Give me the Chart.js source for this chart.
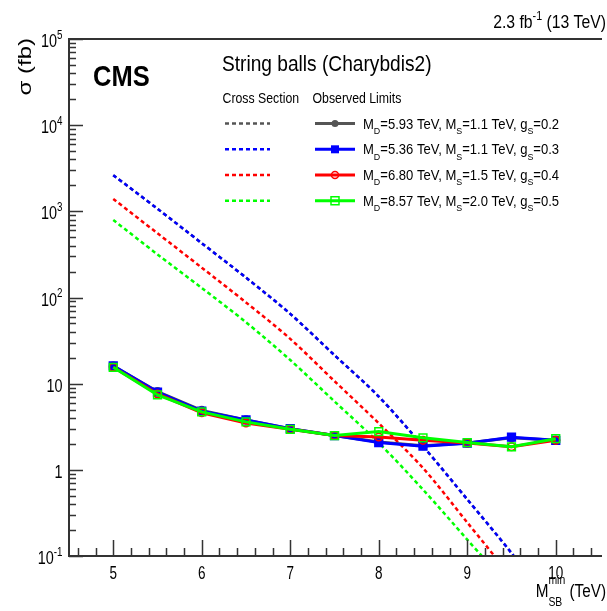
<!DOCTYPE html>
<html>
<head>
<meta charset="utf-8">
<script src="https://cdn.jsdelivr.net/npm/chart.js@4.4.1/dist/chart.umd.min.js"></script>
<style>
  html, body { margin: 0; padding: 0; background: #fff; }
  #wrap { width: 607px; height: 611px; }
</style>
</head>
<body>
<div id="wrap"><canvas id="xsec" width="607" height="611"></canvas></div>
<script>
// minimum string-ball mass points (TeV)
const massPoints = [5, 5.5, 6, 6.5, 7, 7.5, 8, 8.5, 9, 9.5, 10];

// theory cross sections (fb)
const xsecGray  = [2630, 1070, 427, 170, 64.6, 21.4, 7.08, 1.88, 0.454, 0.108, 0.022];
const xsecBlue  = [2630, 1070, 427, 170, 64.6, 21.4, 7.08, 1.88, 0.454, 0.108, 0.022];
const xsecRed   = [1393, 556, 222, 87.7, 33.1, 10.7, 3.47, 1.05, 0.245, 0.056, 0.011];
const xsecGreen = [794, 316, 129, 51.6, 18.8, 6.22, 2.06, 0.59, 0.155, 0.040, 0.008];

// observed 95% CL limits (fb)
const limGray  = [16.0, 8.1, 4.9, 3.8, 3.0, 2.5, 2.1, 1.9, 2.05, 2.35, 2.2];
const limBlue  = [16.1, 8.0, 4.8, 3.8, 3.0, 2.5, 2.07, 1.88, 2.04, 2.39, 2.2];
const limRed   = [15.5, 7.6, 4.6, 3.5, 2.95, 2.5, 2.4, 2.2, 2.05, 1.85, 2.2];
const limGreen = [15.5, 7.4, 4.7, 3.6, 2.95, 2.5, 2.78, 2.35, 2.07, 1.85, 2.3];

const modelLabels = [
  'M_{D}=5.93 TeV, M_{S}=1.1 TeV, g_{S}=0.2',
  'M_{D}=5.36 TeV, M_{S}=1.1 TeV, g_{S}=0.3',
  'M_{D}=6.80 TeV, M_{S}=1.5 TeV, g_{S}=0.4',
  'M_{D}=8.57 TeV, M_{S}=2.0 TeV, g_{S}=0.5'
];
const modelColors = ['#555555', '#0000ff', '#ff0000', '#00ff00'];
const modelMarkers = [
  { style: 'circle', fill: true },
  { style: 'rect', fill: true },
  { style: 'circle', fill: false },
  { style: 'rect', fill: false }
];

const xTickValues = [5, 6, 7, 8, 9, 10];
const yTickValues = [0.1, 1, 10, 100, 1000, 10000, 100000];
const yTickLabels = ['10^{-1}', '1', '10', '10^{2}', '10^{3}', '10^{4}', '10^{5}'];

const FONT = '"Liberation Sans", Arial, Helvetica, sans-serif';

// tiny ROOT-latex style parser: plain, _{sub}, ^{sup}
function parseLatex(str) {
  const runs = [];
  let i = 0, buf = '';
  while (i < str.length) {
    const c = str[i];
    if ((c === '_' || c === '^') && str[i + 1] === '{') {
      if (buf) { runs.push({ text: buf, mode: 'n' }); buf = ''; }
      const end = str.indexOf('}', i);
      runs.push({ text: str.slice(i + 2, end), mode: c === '_' ? 'sub' : 'sup' });
      i = end + 1;
    } else {
      buf += c;
      i++;
    }
  }
  if (buf) runs.push({ text: buf, mode: 'n' });
  return runs;
}

function drawRich(ctx, str, x, y, o) {
  const size = o.size;
  const weight = o.bold ? 'bold ' : '';
  const subDy = (o.subDy ?? 0.33) * size;
  const supDy = (o.supDy ?? -0.45) * size;
  const runs = parseLatex(str);
  ctx.save();
  ctx.translate(x, y);
  ctx.scale(o.sx ?? 1, 1);
  if (o.rotate) ctx.rotate(o.rotate);
  // lay out runs, stacking a sub directly followed by a sup
  let cx = 0, prev = null;
  const placed = [];
  for (const r of runs) {
    const small = r.mode !== 'n';
    const fs = small ? size * 0.68 : size;
    ctx.font = `${weight}${fs}px ${FONT}`;
    const w = ctx.measureText(r.text).width;
    let x0 = cx;
    if (prev && small && prev.mode !== 'n' && prev.mode !== r.mode) {
      x0 = prev.x;
      cx = Math.max(prev.x + prev.w, x0 + w);
    } else {
      cx += w;
    }
    const dy = r.mode === 'sub' ? subDy : r.mode === 'sup' ? supDy : 0;
    const p = { text: r.text, fs, x: x0, w, dy, mode: r.mode };
    placed.push(p);
    prev = p;
  }
  let off = 0;
  if (o.align === 'right') off = -cx;
  else if (o.align === 'center') off = -cx / 2;
  ctx.fillStyle = o.color || '#000';
  ctx.textAlign = 'left';
  ctx.textBaseline = 'alphabetic';
  for (const p of placed) {
    ctx.font = `${weight}${p.fs}px ${FONT}`;
    ctx.fillText(p.text, off + p.x, p.dy);
  }
  ctx.restore();
}

function drawMarker(ctx, x, y, m, color) {
  ctx.save();
  ctx.strokeStyle = color;
  ctx.fillStyle = color;
  ctx.lineWidth = 1.5;
  ctx.beginPath();
  if (m.style === 'circle') ctx.arc(x, y, 3.5, 0, Math.PI * 2);
  else ctx.rect(x - 4, y - 4, 8, 8);
  if (m.fill) ctx.fill(); else ctx.stroke();
  ctx.restore();
}

// frame, inward ticks, tick labels, titles and legend
const decorations = {
  id: 'decorations',
  afterDatasetsDraw(chart) {
    const ctx = chart.ctx;
    const { left, right, top, bottom } = chart.chartArea;
    const xs = chart.scales.x, ys = chart.scales.y;
    ctx.save();
    ctx.strokeStyle = '#333';
    ctx.lineWidth = 2;
    ctx.beginPath();
    ctx.moveTo(right + 2, top);
    ctx.lineTo(left, top);
    ctx.lineTo(left, bottom);
    ctx.lineTo(right + 2, bottom);
    ctx.stroke();

    ctx.lineWidth = 1.5;
    ctx.beginPath();
    for (let d = -1; d <= 5; d++) {
      for (let k = 1; k <= 9; k++) {
        const v = k * Math.pow(10, d);
        if (v < 0.1 || v > 100000) continue;
        const py = Math.round(ys.getPixelForValue(v)) + 0.5;
        ctx.moveTo(left, py);
        ctx.lineTo(left + (k === 1 ? 14 : 7), py);
      }
    }
    for (let t = 46; t <= 104; t += 2) {
      const v = t / 10;
      const px = Math.round(xs.getPixelForValue(v)) + 0.5;
      ctx.moveTo(px, bottom);
      ctx.lineTo(px, bottom - (t % 10 === 0 ? 16 : 8));
    }
    ctx.stroke();
    ctx.restore();

    xTickValues.forEach(v => {
      drawRich(ctx, String(v), xs.getPixelForValue(v), bottom + 22.5, { size: 18, sx: 0.75, align: 'center' });
    });
    yTickValues.forEach((v, i) => {
      drawRich(ctx, yTickLabels[i], 62.5, ys.getPixelForValue(v) + 8, { size: 18.5, sx: 0.78, align: 'right' });
    });

    drawRich(ctx, 'M_{SB}^{min} (TeV)', 606, 597, { size: 18, sx: 0.85, align: 'right', subDy: 0.5, supDy: -0.72 });
    drawRich(ctx, '\u03c3 (fb)', 31, 38, { size: 24, sx: 0.8, align: 'right', rotate: -Math.PI / 2 });
    drawRich(ctx, '2.3 fb^{-1} (13 TeV)', 606, 28, { size: 17.5, sx: 0.9, align: 'right' });
    drawRich(ctx, 'CMS', 93, 86, { size: 30, sx: 0.85, bold: true });
    drawRich(ctx, 'String balls (Charybdis2)', 222, 71, { size: 22, sx: 0.87 });
    drawRich(ctx, 'Cross Section', 222.5, 102.5, { size: 15, sx: 0.82 });
    drawRich(ctx, 'Observed Limits', 312.5, 102.5, { size: 15, sx: 0.82 });

    const rowY = [123.5, 149.3, 175, 200.7];
    modelLabels.forEach((label, i) => {
      const y = rowY[i];
      ctx.save();
      ctx.strokeStyle = modelColors[i];
      ctx.lineWidth = 2.5;
      ctx.setLineDash([4, 3]);
      ctx.beginPath();
      ctx.moveTo(225, y);
      ctx.lineTo(270, y);
      ctx.stroke();
      ctx.setLineDash([]);
      ctx.lineWidth = 3;
      ctx.beginPath();
      ctx.moveTo(315, y);
      ctx.lineTo(355, y);
      ctx.stroke();
      ctx.restore();
      drawMarker(ctx, 335, y, modelMarkers[i], modelColors[i]);
      drawRich(ctx, label, 363, y + 5, { size: 14.5, sx: 0.9, subDy: 0.36 });
    });
  }
};

function toXY(values) {
  return massPoints.map((m, i) => ({ x: m, y: values[i] }));
}

const xsecSets = [xsecGray, xsecBlue, xsecRed, xsecGreen];
const limSets = [limGray, limBlue, limRed, limGreen];
const datasets = [];
xsecSets.forEach((vals, i) => {
  datasets.push({
    data: toXY(vals),
    borderColor: modelColors[i],
    borderWidth: 2.5,
    borderDash: [4, 3],
    pointRadius: 0,
    tension: 0.3,
    fill: false,
    order: 10 - i
  });
});
limSets.forEach((vals, i) => {
  const m = modelMarkers[i];
  datasets.push({
    data: toXY(vals),
    borderColor: modelColors[i],
    borderWidth: 3,
    pointStyle: m.style,
    pointRadius: m.style === 'rect' ? 5.5 : 3.8,
    pointBorderWidth: 1.5,
    pointBorderColor: modelColors[i],
    pointBackgroundColor: m.fill ? modelColors[i] : 'rgba(0,0,0,0)',
    tension: 0,
    fill: false,
    order: 4 - i
  });
});

new Chart(document.getElementById('xsec'), {
  type: 'line',
  data: { datasets },
  options: {
    responsive: false,
    animation: false,
    layout: { padding: { left: 69, top: 39, right: 0, bottom: 55 } },
    plugins: { legend: { display: false }, tooltip: { enabled: false } },
    scales: {
      x: { type: 'linear', min: 4.5, max: 10.5, display: false },
      y: { type: 'logarithmic', min: 0.1, max: 100000, display: false }
    }
  },
  plugins: [decorations]
});
</script>
</body>
</html>
